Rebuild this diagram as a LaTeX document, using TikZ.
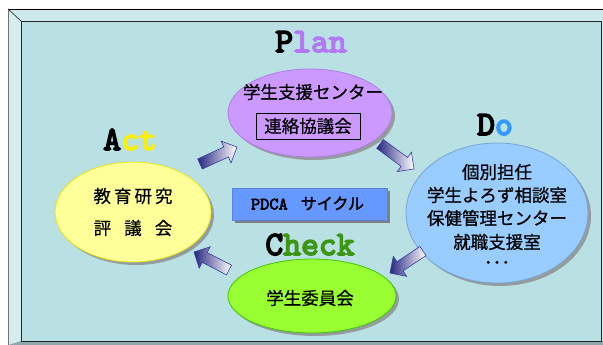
\documentclass[tikz,border=0pt]{standalone}
\usepackage{fontspec}
\usetikzlibrary{shapes.geometric,shadows,calc}
\newfontfamily\cjk[FakeBold=0.6]{Noto Sans CJK JP}
\newfontfamily\cjkbold[FakeBold=2]{Noto Sans CJK JP}
\newfontfamily\monob[FakeBold=4.5]{lmmono10-regular.otf}
\newfontfamily\monobs[FakeBold=3]{lmmono10-regular.otf}
\definecolor{inner}{RGB}{185,224,227}
\definecolor{bevtop}{RGB}{206,233,235}
\definecolor{bevleft}{RGB}{214,237,239}
\definecolor{bevbottom}{RGB}{140,168,172}
\definecolor{planfill}{RGB}{204,153,255}
\definecolor{planedge}{RGB}{175,125,230}
\definecolor{dofill}{RGB}{153,204,255}
\definecolor{doedge}{RGB}{120,165,215}
\definecolor{actfill}{RGB}{255,255,153}
\definecolor{actedge}{RGB}{230,230,20}
\definecolor{checkfill}{RGB}{153,255,51}
\definecolor{checkedge}{RGB}{60,200,10}
\definecolor{pdcafill}{RGB}{102,153,255}
\definecolor{pdcaedge}{RGB}{90,130,220}
\definecolor{plancol}{RGB}{180,120,245}
\definecolor{docol}{RGB}{51,153,255}
\definecolor{actcol}{RGB}{250,240,0}
\definecolor{checkcol}{RGB}{60,150,20}
\definecolor{arrowdark}{RGB}{40,40,130}
\definecolor{arrowedge}{RGB}{60,60,160}
\tikzset{
  bubble/.style={ellipse, inner sep=0pt, line width=0.8pt,
    drop shadow={shadow xshift=3pt, shadow yshift=-3pt, fill=black!45, opacity=0.8}},
  jp/.style={font=\cjk\fontsize{17.5}{20}\selectfont, inner sep=0pt},
  lab/.style={font=\monob\fontsize{34}{34}\selectfont, inner sep=0pt, anchor=base},
  blockarrow/.style={left color=arrowdark, right color=white, draw=arrowedge, line width=0.6pt, line join=miter}
}
\newcommand\pdcaarrow[2]{%
  \coordinate (arrneck) at ($(#2)!12pt!(#1)$);
  \shade[blockarrow] ($(#1)!5.5pt!90:(#2)$) -- ($(arrneck)!5.5pt!90:(#2)$)
    -- ($(arrneck)!12pt!90:(#2)$) -- (#2) -- ($(arrneck)!12pt!-90:(#2)$)
    -- ($(arrneck)!5.5pt!-90:(#2)$) -- ($(#1)!5.5pt!-90:(#2)$) -- cycle;
}
\begin{document}
\begin{tikzpicture}[x=1pt,y=-1pt]
\useasboundingbox (0,0) rectangle (603,345);
\fill[white] (0,0) rectangle (603,345);
% frame
\fill[bevtop] (8,9) -- (603,9) -- (603,21) -- (21,21) -- cycle;
\fill[bevleft] (8,9) -- (21,21) -- (21,341) -- (8,345) -- cycle;
\fill[bevbottom] (8,345) -- (21,341) -- (603,341) -- (603,345) -- cycle;
\fill[bevleft] (601,21) -- (603,21) -- (603,341) -- (601,341) -- cycle;
\fill[inner] (21,21) rectangle (601,341);
\draw[black!55, line width=1pt] (8,345) -- (8,9);
\draw[black, line width=0.8pt] (8,9) -- (603,9);
\draw[black!80, line width=0.7pt] (8,9) -- (21,21);
\draw[black!85, line width=0.8pt] (21,341) -- (21,21) -- (601,21) -- (601,341) -- cycle;
% ellipses
\node[bubble, minimum width=164pt, minimum height=88pt, fill=planfill, draw=planedge] (plan) at (310,113) {};
\node[bubble, minimum width=182pt, minimum height=140pt, fill=dofill, draw=doedge] (do) at (497,213) {};
\node[bubble, minimum width=156pt, minimum height=100pt, fill=actfill, draw=actedge] (act) at (133,212) {};
\node[bubble, minimum width=168pt, minimum height=74pt, fill=checkfill, draw=checkedge] (check) at (312,296) {};
% PDCA box
\node[minimum width=155pt, minimum height=32pt, inner sep=0pt, fill=pdcafill, draw=pdcaedge, line width=0.6pt,
  drop shadow={shadow xshift=3pt, shadow yshift=-3pt, fill=black!50, opacity=1}] (pdca) at (309.5,204) {};
\node[inner sep=0pt, anchor=base] (pdcatext) at (307.5,209.5)
  {{\monobs\fontsize{17.5}{17.5}\selectfont PDCA}\hspace{13pt}{\cjkbold\fontsize{16}{16}\selectfont サイクル}};
% labels
\node[lab] (plantitle) at (311,52) {P\textcolor{plancol}{lan}};
\node[lab] (dotitle) at (495,135) {D\textcolor{docol}{o}};
\node[lab] (acttitle) at (130,150) {A\textcolor{actcol}{ct}};
\node[lab] (checktitle) at (310,255) {C\textcolor{checkcol}{heck}};
% texts
\node[jp] (plan1) at (313,92) {学生支援センター};
\node[jp, draw=black, line width=0.7pt, minimum width=104pt, minimum height=26pt] (plan2) at (308,126) {連絡協議会};
\node[jp] (do1) at (497,172) {個別担任};
\node[jp] (do2) at (497,195) {学生よろず相談室};
\node[jp] (do3) at (497,218) {保健管理センター};
\node[jp] (do4) at (497,242) {就職支援室};
\node[jp] (do5) at (497,265) {･･･};
\node[jp] (act1) at (133,196) {教\hspace{3pt}育\hspace{3pt}研\hspace{3pt}究};
\node[jp] (act2) at (133,228) {評\hspace{13pt}議\hspace{13pt}会};
\node[jp] (check1) at (310,298) {学生委員会};
% arrows
\coordinate (a1t) at (200,164); \coordinate (a1h) at (237,147);
\coordinate (a2t) at (380,144); \coordinate (a2h) at (414,169);
\coordinate (a3t) at (423,251); \coordinate (a3h) at (390,273);
\coordinate (a4t) at (229,270); \coordinate (a4h) at (194,252);
\pdcaarrow{a1t}{a1h}
\pdcaarrow{a2t}{a2h}
\pdcaarrow{a3t}{a3h}
\pdcaarrow{a4t}{a4h}
\end{tikzpicture}
\end{document}
